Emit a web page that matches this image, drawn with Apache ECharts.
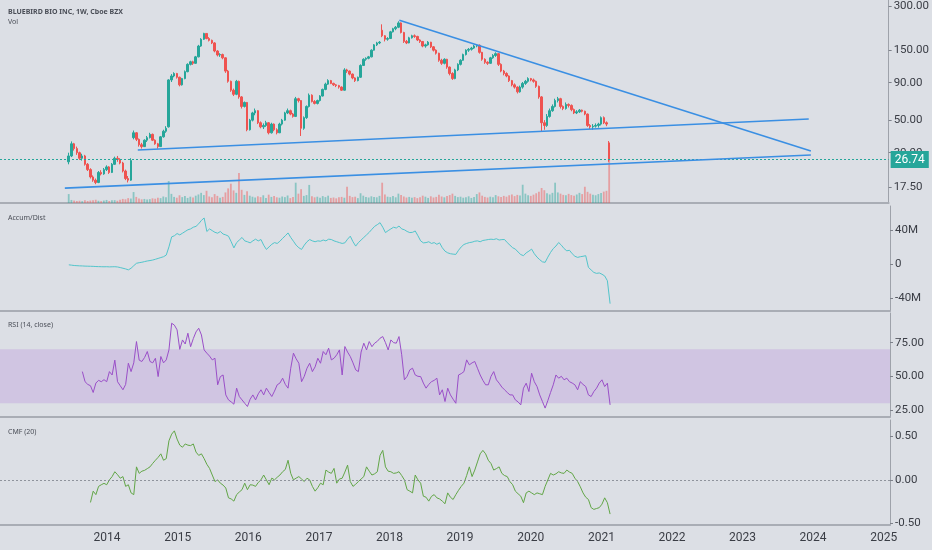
<!DOCTYPE html>
<html><head><meta charset="utf-8">
<script src="https://cdn.jsdelivr.net/npm/echarts@6/dist/echarts.min.js"></script>
<style>html,body{margin:0;padding:0;background:#dcdfe5;}#c{width:932px;height:550px;}</style>
</head><body><div id="c"></div>
<script>
// ---- data (biweekly bars from the week of 2013-06-17) ----
const startDate = '2013-06-17';
const stepDays = 14;
// [open, close, low, high]
const candles = [
[26.0,28.5,25.0,30.0],[28.5,34.5,28.0,35.8],[34.5,32.0,31.0,35.0],[32.0,30.0,29.0,33.0],[30.0,27.5,26.8,30.5],
[27.5,28.5,26.5,29.5],[28.5,25.0,24.5,29.0],[25.0,23.0,22.5,25.5],[23.0,20.5,20.0,23.5],[20.5,19.5,19.0,21.0],
[19.5,18.8,18.3,20.0],[18.8,22.0,18.6,22.5],[22.0,21.5,21.0,22.8],[21.5,23.0,21.2,23.6],[23.0,24.0,22.5,24.6],
[24.0,22.0,21.5,24.3],[22.0,25.0,21.8,25.5],[25.0,27.5,24.8,28.2],[27.5,27.0,26.0,28.5],[27.0,25.5,25.0,27.5],
[25.5,22.5,22.0,26.0],[22.5,20.0,19.5,23.0],[20.0,19.5,18.8,20.8],[19.5,26.5,19.3,27.5],[38.0,41.0,37.0,42.5],
[41.0,37.0,36.0,41.5],[37.0,34.0,33.0,37.5],[34.0,33.0,32.0,35.0],[33.0,36.5,32.8,37.0],[36.5,38.0,35.5,39.0],
[38.0,40.0,37.5,41.0],[40.0,36.5,36.0,40.5],[36.5,34.5,34.0,37.0],[34.5,33.0,32.0,35.0],[33.0,38.5,32.8,39.0],
[38.5,42.0,38.0,43.0],[42.0,44.0,41.0,45.5],[45.0,94.0,44.5,95.0],[94.0,100.0,91.0,103.0],[100.0,104.0,98.0,106.0],
[104.0,98.0,96.0,105.0],[98.0,87.0,85.0,99.0],[87.0,96.0,86.0,97.0],[96.0,107.0,95.0,109.0],[107.0,120.0,106.0,122.0],
[120.0,125.0,118.0,127.0],[125.0,122.0,119.0,127.0],[122.0,135.0,121.0,137.0],[135.0,160.0,134.0,163.0],[160.0,178.0,158.0,181.0],
[178.0,195.0,176.0,197.0],[195.0,180.0,178.0,196.0],[180.0,175.0,172.0,184.0],[175.0,168.0,165.0,177.0],[168.0,148.0,145.0,170.0],
[148.0,139.0,136.0,150.0],[139.0,140.0,135.0,143.0],[140.0,133.0,130.0,142.0],[133.0,108.0,105.0,134.0],[108.0,92.0,90.0,110.0],
[92.0,80.0,78.0,93.0],[80.0,75.0,73.0,82.0],[75.0,92.0,74.0,94.0],[92.0,72.0,70.0,93.0],[72.0,62.0,60.0,73.0],
[62.0,66.0,61.0,67.0],[66.0,43.0,42.0,66.5],[43.0,50.0,42.5,51.0],[50.0,56.0,49.0,57.0],[56.0,58.0,54.0,60.0],
[58.0,48.0,47.0,58.5],[48.0,45.0,44.0,49.0],[45.0,46.0,43.5,47.5],[46.0,48.0,45.0,49.5],[48.0,41.0,40.0,48.5],
[41.0,47.0,40.5,48.0],[47.0,43.0,42.0,47.5],[43.0,41.0,40.0,44.0],[41.0,47.0,40.8,48.0],[47.0,50.0,46.0,51.0],
[50.0,56.0,49.5,57.0],[56.0,58.0,55.0,60.0],[58.0,55.0,54.0,59.0],[55.0,53.0,52.0,56.0],[53.0,70.0,52.5,72.0],
[70.0,68.0,66.0,71.0],[68.0,44.0,39.0,68.5],[44.0,52.0,43.0,53.0],[52.0,62.0,51.0,63.0],[62.0,74.0,61.0,76.0],
[74.0,67.0,66.0,75.0],[67.0,65.0,64.0,68.5],[65.0,68.0,64.0,69.0],[68.0,73.0,67.0,74.0],[73.0,81.0,72.5,82.0],
[81.0,88.0,80.0,90.0],[88.0,93.0,87.0,95.0],[93.0,89.0,88.0,94.0],[89.0,87.0,85.5,90.0],[87.0,86.0,84.0,88.0],
[86.0,84.0,82.0,87.0],[84.0,80.0,79.0,85.0],[80.0,110.0,79.5,113.0],[110.0,108.0,105.0,112.0],[108.0,103.0,101.0,109.0],
[103.0,97.0,95.0,104.0],[97.0,93.0,91.0,98.0],[93.0,98.0,92.0,99.0],[98.0,118.0,97.0,120.0],[118.0,130.0,117.0,132.0],
[130.0,132.0,127.0,134.0],[132.0,135.0,130.0,137.0],[135.0,150.0,134.0,152.0],[150.0,163.0,149.0,165.0],[163.0,168.0,160.0,171.0],
[168.0,170.0,165.0,173.0],[205.0,188.0,184.0,225.0],[188.0,178.0,172.0,190.0],[178.0,180.0,174.0,184.0],[180.0,200.0,179.0,203.0],
[200.0,210.0,198.0,213.0],[210.0,215.0,205.0,219.0],[215.0,230.0,212.0,236.0],[230.0,198.0,195.0,232.0],[198.0,172.0,168.0,200.0],
[172.0,168.0,165.0,176.0],[168.0,182.0,167.0,185.0],[182.0,188.0,180.0,191.0],[188.0,186.0,182.0,192.0],[186.0,176.0,173.0,188.0],
[176.0,172.0,168.0,178.0],[172.0,160.0,157.0,173.0],[160.0,163.0,156.0,166.0],[163.0,170.0,161.0,173.0],[170.0,158.0,155.0,171.0],
[158.0,150.0,147.0,160.0],[150.0,143.0,140.0,152.0],[143.0,128.0,125.0,144.0],[128.0,122.0,119.0,131.0],[122.0,130.0,120.0,132.0],
[130.0,115.0,112.0,131.0],[115.0,104.0,101.0,116.0],[104.0,96.0,94.0,106.0],[96.0,110.0,95.0,112.0],[110.0,120.0,108.0,122.0],
[120.0,128.0,118.0,130.0],[128.0,140.0,127.0,142.0],[140.0,150.0,138.0,152.0],[150.0,152.0,146.0,155.0],[152.0,155.0,149.0,158.0],
[155.0,160.0,153.0,163.0],[160.0,162.0,157.0,165.0],[162.0,145.0,142.0,164.0],[145.0,130.0,127.0,146.0],[130.0,124.0,121.0,132.0],
[124.0,122.0,119.0,126.0],[122.0,133.0,121.0,135.0],[133.0,138.0,131.0,141.0],[138.0,142.0,135.0,145.0],[142.0,120.0,117.0,143.0],
[120.0,108.0,106.0,122.0],[108.0,104.0,101.0,110.0],[104.0,100.0,98.0,106.0],[100.0,93.0,91.0,101.0],[93.0,87.0,85.0,94.0],
[87.0,84.0,82.0,89.0],[84.0,78.0,76.0,85.0],[78.0,84.0,77.0,86.0],[84.0,89.0,82.0,91.0],[89.0,92.0,87.0,94.0],
[92.0,96.0,90.0,98.0],[96.0,94.0,92.0,97.0],[94.0,92.0,90.0,96.0],[92.0,85.0,83.0,93.0],[85.0,72.0,70.0,86.0],
[72.0,48.0,42.0,73.0],[48.0,46.0,43.0,50.0],[46.0,53.0,45.0,55.0],[53.0,58.0,52.0,60.0],[58.0,62.0,57.0,64.0],
[62.0,68.0,61.0,70.0],[68.0,70.0,66.0,72.0],[70.0,62.0,60.0,71.0],[62.0,60.0,58.5,63.0],[60.0,64.0,59.0,66.0],
[64.0,63.0,61.0,65.0],[63.0,59.0,57.5,64.0],[59.0,56.0,55.0,60.0],[56.0,57.0,55.0,58.5],[57.0,58.5,56.0,59.5],
[58.5,57.5,56.5,59.0],[57.5,55.0,54.0,58.0],[55.0,46.0,45.0,55.5],[46.0,45.0,43.5,47.0],[45.0,45.5,43.0,47.0],
[45.5,46.0,44.5,47.5],[46.0,47.0,44.5,48.0],[47.0,52.0,46.0,53.0],[52.0,48.0,47.0,53.0],[48.0,47.0,45.5,49.0],
[35.0,26.74,26.0,36.0]
];
const volumes = [
4.4,1.5,1.2,1.0,1.1,0.9,1.3,1.0,1.2,1.4,
1.6,1.1,0.9,1.2,1.5,1.0,1.3,1.4,1.1,1.6,
2.0,1.8,2.4,2.2,5.4,3.0,2.2,1.8,2.0,1.7,
1.9,2.3,2.1,2.6,2.4,3.2,2.8,10.8,4.5,3.0,
2.6,3.8,2.9,3.4,2.5,3.1,2.7,3.6,4.2,5.0,
3.9,6.0,3.2,2.8,4.4,3.5,2.6,3.0,5.2,7.2,
9.5,6.2,5.0,14.8,6.5,4.0,5.8,3.6,3.1,2.7,
3.3,2.9,3.8,2.5,4.1,3.0,3.4,2.8,2.6,3.2,
2.9,3.7,2.4,3.0,10.0,4.6,6.8,3.5,3.9,8.9,
3.3,2.8,3.1,2.6,3.4,2.9,3.6,2.5,2.7,2.3,
2.8,3.0,2.6,8.0,3.5,2.9,3.1,2.4,4.8,3.6,
2.9,2.7,3.3,3.0,2.8,3.5,10.0,4.2,3.1,2.9,
3.4,2.8,4.6,4.0,3.2,2.7,3.0,2.6,2.9,2.4,
2.8,3.6,3.1,2.5,3.3,2.7,3.0,4.1,3.2,2.8,
3.4,3.9,4.6,3.5,2.9,3.1,2.6,2.8,3.3,2.5,
3.0,4.4,5.2,3.6,3.0,2.7,3.1,2.8,3.9,3.3,
2.9,3.5,3.1,3.8,4.2,3.4,4.0,3.7,9.0,4.6,
3.8,3.5,4.1,4.8,5.6,7.4,6.3,4.8,4.2,5.0,
10.0,5.2,4.6,4.0,3.8,4.5,3.9,3.6,4.2,5.0,
4.4,8.0,5.5,4.6,4.1,3.8,4.4,4.9,5.6,6.0,
28.6
];
// Accumulation/Distribution, millions
const accDist = [
-1.0,-1.4,-1.8,-2.0,-2.2,-2.3,-2.5,-2.6,-2.7,-2.8,
-3.0,-3.1,-3.2,-3.3,-3.2,-3.4,-3.3,-3.2,-3.5,-4.2,
-5.0,-5.8,-6.9,-5.0,-2.0,0.8,1.5,2.0,2.8,3.5,
4.0,4.6,5.5,6.5,7.5,8.5,10.4,20.0,31.7,33.0,
35.6,34.0,36.0,38.0,40.0,41.0,43.0,44.0,47.0,51.0,
53.8,38.0,41.0,39.0,37.0,36.0,38.0,35.0,34.0,32.5,
26.0,18.8,25.0,28.0,31.0,27.0,26.0,24.7,27.0,29.0,
27.0,28.6,22.0,17.0,20.0,23.0,25.0,24.0,26.6,30.0,
33.0,36.3,31.0,26.6,22.0,19.0,17.0,22.0,26.0,28.6,
27.0,26.0,27.0,26.6,28.0,27.0,29.0,28.6,27.0,26.0,
25.0,24.0,24.7,29.0,32.5,26.0,20.9,25.0,28.0,31.0,
34.0,37.0,40.6,44.0,46.0,48.3,43.0,36.7,39.0,41.0,
43.0,42.0,44.4,41.0,40.0,38.0,36.7,37.0,38.6,33.0,
27.0,24.7,25.0,26.0,24.0,25.0,23.0,24.7,19.0,15.0,
13.0,12.0,11.5,11.2,16.0,20.0,22.8,24.0,25.0,25.5,
26.6,27.0,26.0,27.5,28.0,28.6,29.0,28.6,29.5,28.0,
28.5,28.6,25.0,22.0,19.0,17.4,14.0,11.0,9.7,13.0,
15.0,17.4,12.0,8.0,5.0,2.5,1.9,8.0,13.5,18.0,
21.0,25.1,22.0,18.0,15.4,16.0,12.0,9.0,7.7,8.5,
9.0,9.7,-4.0,-7.0,-9.9,-11.0,-10.5,-12.0,-14.0,-19.6,
-46.4
];
const rsiStart = 5;
const rsi = [
53.5,46,44,43,38,45,47,46,47.5,46,
53.5,51,62,46,43,40,44,59.7,53.5,60,
75.8,62,61,64,68.4,61,60,63.4,49.8,64.7,
60,62.2,69.6,89.4,88,84.5,70,77,74,82,
72,78,83,85.7,80.7,69.6,67.2,65,62.2,63.4,
43.7,49.8,51,36.2,32.5,31,29.3,41.2,35,32.5,
30,27.6,33,36.2,32.5,37,40,36.2,41.2,38,
35,39,43.7,45,48.6,44,41.2,56,67.2,63,
59.7,46,50,56,59.7,53.5,57,63.4,59.7,68.4,
66,70.9,62.2,63.4,66,69.6,51,72.1,68,64.7,
60,54.8,53.5,68,74.6,69.6,75.8,72,74.6,76,
78.3,79.5,75,69.6,77,75,74.6,79.5,66,47.4,
50,54.8,56,51,50,49.8,45,41.2,44,46,
47,48.6,36.2,40,31.3,41.2,36.2,33,30,51,
52,53.5,62.2,58.5,60,61,56,51,47,43.7,
43.7,50,53.5,47.4,44.9,42,40,38,36.2,36.2,
32.5,31,28.8,41.2,44.9,38.7,52.3,46,42.4,36.2,
31.3,26.4,32,38,43.7,51,48.6,50,47.4,48.6,
46,45,43.7,40,46,44,42.4,36.2,35,38.7,
41.2,45,47.4,42.4,44.9,28.8
];
const cmfStart = 8;
const cmf = [
-0.26,-0.13,-0.17,-0.075,-0.056,-0.04,-0.056,0,0.038,0.094,
0.06,0.019,0.038,-0.075,-0.056,-0.15,-0.17,0.15,0.075,0.1,
0.11,0.13,0.15,0.19,0.226,0.26,0.30,0.226,0.245,0.45,
0.527,0.565,0.47,0.40,0.376,0.414,0.40,0.395,0.414,0.32,
0.282,0.30,0.245,0.18,0.132,0.056,-0.019,0.0,-0.038,-0.06,
-0.094,-0.207,-0.22,-0.245,-0.17,-0.14,-0.113,-0.038,-0.113,-0.056,
-0.06,-0.075,-0.03,0,0.056,0.0,-0.056,0.02,0,0.03,
0.056,0.094,0.12,0.226,0.075,0,0.02,0.038,0.01,-0.019,
0.019,0.0,-0.075,-0.13,-0.09,-0.038,-0.056,0.113,0.09,0.075,
0.132,-0.038,0.01,0.019,0.09,0.17,-0.019,-0.075,-0.05,-0.019,
0.01,0.038,0.15,0.1,0.056,0.07,0.094,0.282,0.34,0.15,
0.1,0.094,0.075,0.08,0.094,0.05,0,-0.113,-0.13,-0.15,
0.056,0.0,-0.038,-0.188,-0.2,-0.245,-0.19,-0.17,-0.207,-0.22,
-0.245,-0.275,-0.15,-0.2,-0.226,-0.17,-0.12,-0.075,-0.038,0.05,
0.15,0.038,0.113,0.207,0.3,0.34,0.30,0.226,0.188,0.113,
0.13,0.15,0.075,0.05,0.038,-0.02,-0.056,-0.13,-0.16,-0.188,
-0.263,-0.15,-0.13,-0.15,-0.17,-0.15,-0.16,-0.17,-0.075,0.0,
0.075,0.056,0.07,0.094,0.08,0.075,0.113,0.09,0.075,0.019,
-0.019,-0.08,-0.15,-0.2,-0.226,-0.32,-0.34,-0.33,-0.32,-0.28,
-0.207,-0.263,-0.394
];
// trend lines drawn on the chart: [date, price]
const trendDown = [['2018-02-24',240],['2023-12-27',30.8]];
const trendMid = [['2014-06-10',31.3],['2023-12-16',50.9]];
const trendLow = [['2013-05-28',17.2],['2023-12-27',28.9]];
const lastPrice = 26.74;
const priceTicks = [300,150,90,50,30,17.5];
const adTicks = [40,0,-40];
const rsiTicks = [75,50,25];
const cmfTicks = [0.5,0,-0.5];
const yearTicks = [2014,2015,2016,2017,2018,2019,2020,2021,2022,2023,2024,2025];
const rsiBand = [30,70];

// ---- chart ----
const DAY = 86400000;
const t0 = Date.parse(startDate);
const dateAt = i => t0 + i * stepDays * DAY;
const lg = v => Math.log10(v);
const xMin = Date.parse('2012-06-26');
const xMax = Date.parse('2025-02-02');
const UP = '#26a69a', DOWN = '#ef5350';
const FONT = 'Roboto';
const labelColor = '#3a3d45';
const sepColor = '#a9adb5';

const grids = [
  {left:0, right:42, top:0, height:203},
  {left:0, right:42, top:206, height:105},
  {left:0, right:42, top:313, height:104},
  {left:0, right:42, top:420, height:105}
];
const xAxes = grids.map((g, k) => ({
  type:'value', gridIndex:k, min:xMin, max:xMax,
  axisLine:{show:true, onZero:false, lineStyle:{color:sepColor, width:2}},
  axisTick:{show:false}, splitLine:{show:false},
  axisLabel: k === 3 ? {
    show:true, customValues: yearTicks.map(y => Date.UTC(y,0,1)),
    formatter: v => String(new Date(v).getUTCFullYear()),
    color:labelColor, fontSize:12, fontFamily:FONT, margin:7
  } : {show:false}
}));
function yAx(grid, min, max, ticks, fmt) {
  return {
    type:'value', gridIndex:grid, position:'right', min:min, max:max,
    axisLine:{show:true, onZero:false, lineStyle:{color:'#9ea2aa'}},
    axisTick:{show:true, length:3, customValues:ticks, lineStyle:{color:'#7d818a'}},
    splitLine:{show:false},
    axisLabel:{customValues:ticks, formatter:fmt, color:labelColor, fontSize:11.5, fontFamily:FONT, margin:5}
  };
}
const yAxes = [
  yAx(0, lg(13.62), lg(329.6), priceTicks.map(lg), v => Math.pow(10, v).toFixed(2)),
  {type:'value', gridIndex:0, min:0, max:100, show:false},
  yAx(1, -55, 67.8, adTicks, v => Math.abs(v) < 1e-9 ? '0' : v + 'M'),
  yAx(2, 19.8, 97, rsiTicks, v => v.toFixed(2)),
  yAx(3, -0.52, 0.69, cmfTicks, v => v.toFixed(2))
];

const trendSeries = [trendDown, trendMid, trendLow].map(tl => ({
  type:'line', xAxisIndex:0, yAxisIndex:0, silent:true, showSymbol:false, z:5,
  data: tl.map(p => [Date.parse(p[0]), lg(p[1])]),
  lineStyle:{color:'#3a8fe3', width:1.6}
}));
// last-price line and tag, attached to the lower trend-line series
trendSeries[2].markLine = {
  silent:true, symbol:['none','none'],
  data:[{yAxis: lg(lastPrice)}],
  lineStyle:{color:UP, type:[2,2], width:1, opacity:1},
  label:{position:'end', distance:2, formatter: lastPrice.toFixed(2), color:'#ffffff',
    backgroundColor:UP, padding:[3,4,2,4], fontSize:12, fontFamily:FONT}
};

const textStyle = {fontSize:7, fontWeight:'normal', color:'#4a4e57', fontFamily:'Noto Sans'};
const option = {
  animation:false,
  backgroundColor:'#dcdfe5',
  title:[
    {text:'BLUEBIRD BIO INC, 1W, Cboe BZX', left:3, top:3, textStyle:Object.assign({}, textStyle, {fontWeight:'bold'})},
    {text:'Vol', left:3, top:13, textStyle:textStyle},
    {text:'Accum/Dist', left:3, top:209, textStyle:textStyle},
    {text:'RSI (14, close)', left:3, top:316, textStyle:textStyle},
    {text:'CMF (20)', left:3, top:423, textStyle:textStyle}
  ],
  grid:grids,
  xAxis:xAxes,
  yAxis:yAxes,
  series:[
    {
      type:'bar', name:'Vol', xAxisIndex:0, yAxisIndex:1, silent:true, z:1, barWidth:1.8,
      data: volumes.map((v, i) => ({
        value:[dateAt(i), v],
        itemStyle:{color: candles[i][1] >= candles[i][0] ? 'rgba(38,166,154,0.45)' : 'rgba(239,83,80,0.45)'}
      }))
    },
    {
      type:'candlestick', xAxisIndex:0, yAxisIndex:0, silent:true, z:3, barWidth:2,
      data: candles.map((c, i) => [dateAt(i), lg(c[0]), lg(c[1]), lg(c[2]), lg(c[3])]),
      itemStyle:{color:UP, color0:DOWN, borderColor:UP, borderColor0:DOWN, borderWidth:1}
    },
    ...trendSeries,
    {
      type:'line', xAxisIndex:1, yAxisIndex:2, silent:true, showSymbol:false,
      data: accDist.map((v, i) => [dateAt(i), v]),
      lineStyle:{color:'#52c5cb', width:1}
    },
    {
      type:'line', xAxisIndex:2, yAxisIndex:3, silent:true, showSymbol:false,
      data: rsi.map((v, i) => [dateAt(i + rsiStart), v]),
      lineStyle:{color:'#9a4fc8', width:1},
      markArea:{silent:true, itemStyle:{color:'rgba(160,85,215,0.19)'},
        data:[[{yAxis:rsiBand[0]},{yAxis:rsiBand[1]}]]}
    },
    {
      type:'line', xAxisIndex:3, yAxisIndex:4, silent:true, showSymbol:false,
      data: cmf.map((v, i) => [dateAt(i + cmfStart), v]),
      lineStyle:{color:'#62a647', width:1},
      markLine:{silent:true, symbol:['none','none'], label:{show:false},
        data:[{yAxis:0}], lineStyle:{color:'#8f939c', type:[2,2], width:1}}
    }
  ]
};
const chart = echarts.init(document.getElementById('c'), null, {renderer:'canvas'});
chart.setOption(option);
</script>
</body></html>
